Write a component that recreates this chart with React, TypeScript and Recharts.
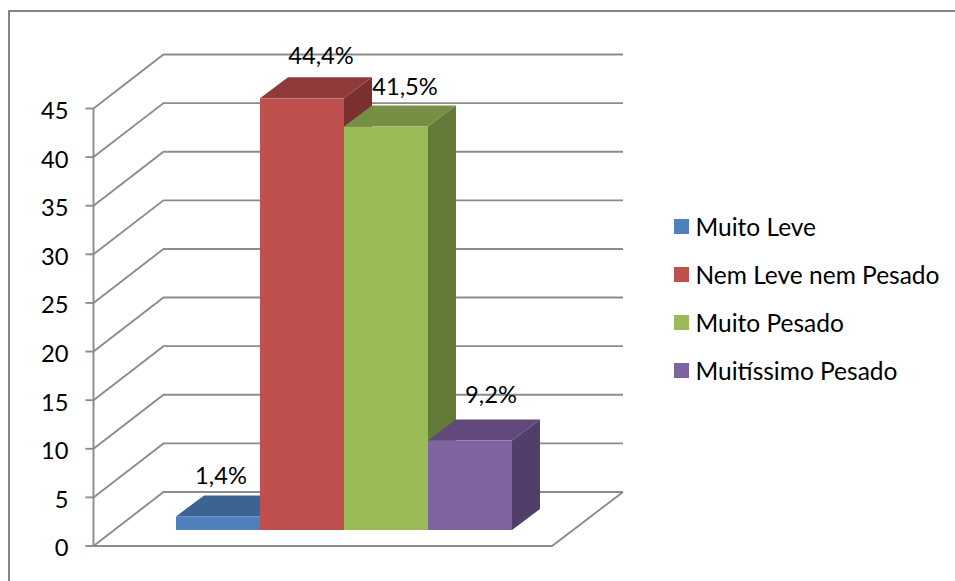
import React from 'react';
import { BarChart, Bar, XAxis, YAxis, CartesianGrid, Legend, LabelList } from 'recharts';

const category = ['Carga'];
const seriesNames = ['Muito Leve', 'Nem Leve nem Pesado', 'Muito Pesado', 'Muitíssimo Pesado'];
const seriesValues = [1.4, 44.4, 41.5, 9.2];
const dataLabels = ['1,4%', '44,4%', '41,5%', '9,2%'];
const yTicks = [0, 5, 10, 15, 20, 25, 30, 35, 40, 45];

const frontColors = ['#4F81BD', '#C0504D', '#9BBB59', '#8064A2'];
const topColors = ['#3C6391', '#8F3B39', '#769043', '#60497B'];
const sideColors = ['#335379', '#7A302E', '#647A38', '#523F69'];

const row: Record<string, string | number> = { name: category[0] };
seriesNames.forEach((n, i) => { row[n] = seriesValues[i]; });
const data = [row];

const FONT = 'Lato, sans-serif';
const GREY = '#8C8C8C';
// perspective of the walls and of the bars
const WALL_DX = 70;
const WALL_DY = 54;
const BAR_DX = 28;
const BAR_DY = 21;
const BAR_SHIFT_X = 20.5;
const BAR_SHIFT_Y = -16;
const LABEL_NUDGE = [[3, -41], [19, -43], [19, -41], [21, -47]];

const wallLine = (props: any) => {
    const { x1, x2, y1 } = props;
    const back = y1 - WALL_DY;
    const isFloor = y1 > 540;
    return (
        <g key={`wall-${y1}`} fill="none" stroke={GREY} strokeWidth={1.9}>
            <path d={`M${x1},${y1}L${x1 + WALL_DX},${back}L${x2 + WALL_DX + 1},${back}`} />
            {isFloor && <path d={`M${x1},${y1}L${x2},${y1}L${x2 + WALL_DX + 1},${back}`} />}
        </g>
    );
};

const box = (i: number) => (props: any) => {
    const x = props.x + BAR_SHIFT_X;
    const y = props.y + BAR_SHIFT_Y;
    const { width, height } = props;
    const right = x + width;
    return (
        <g>
            <polygon points={`${x},${y} ${x + BAR_DX},${y - BAR_DY} ${right + BAR_DX},${y - BAR_DY} ${right},${y}`} fill={topColors[i]} />
            <polygon points={`${right},${y} ${right + BAR_DX},${y - BAR_DY} ${right + BAR_DX},${y + height - BAR_DY} ${right},${y + height}`} fill={sideColors[i]} />
            <rect x={x} y={y} width={width} height={height} fill={frontColors[i]} />
        </g>
    );
};

const barLabel = (i: number) => (props: any) => {
    const cx = props.x + props.width / 2 + BAR_SHIFT_X + LABEL_NUDGE[i][0];
    const cy = props.y + BAR_SHIFT_Y + LABEL_NUDGE[i][1];
    return (
        <text x={cx} y={cy} textAnchor="middle" dominantBaseline="central" fontFamily={FONT} fontSize={23.7} fill="#000">
            {dataLabels[i]}
        </text>
    );
};

const legendContent = (props: any) => (
    <div style={{ fontFamily: FONT, fontSize: 24.5, color: '#000' }}>
        {props.payload.map((entry: any) => (
            <div key={entry.value} style={{ height: 48, display: 'flex', alignItems: 'center', whiteSpace: 'nowrap' }}>
                <span style={{ width: 15, height: 15, background: entry.color, marginRight: 7, flex: 'none' }} />
                {entry.value}
            </div>
        ))}
    </div>
);

export default function App() {
    return (
        <div style={{ position: 'absolute', left: 0, top: 0, width: 955, height: 581, overflow: 'hidden', background: '#fff' }}>
            <div style={{ position: 'absolute', left: 8, top: 10, width: 960, height: 600, borderTop: '2px solid #868686', borderLeft: '2px solid #868686' }} />
            <div style={{ position: 'absolute', left: 0, top: 0 }}>
                <BarChart
                    width={955}
                    height={581}
                    data={data}
                    margin={{ top: 108.5, right: 121.5, bottom: 35, left: 0 }}
                    barCategoryGap={62}
                    barGap={0}
                >
                    <CartesianGrid vertical={false} horizontal={wallLine} />
                    <XAxis dataKey="name" hide />
                    <YAxis
                        type="number"
                        domain={[0, 45]}
                        ticks={yTicks}
                        interval={0}
                        width={93.5}
                        axisLine={{ stroke: GREY, strokeWidth: 1.9 }}
                        tickLine={{ stroke: GREY, strokeWidth: 1.9 }}
                        tickSize={8}
                        tickMargin={17}
                        tick={{ fill: '#000', fontFamily: FONT, fontSize: 23.7, dy: 2 }}
                    />
                    <Legend
                        layout="vertical"
                        align="right"
                        verticalAlign="top"
                        itemSorter={null}
                        content={legendContent}
                        wrapperStyle={{ left: 673.5, top: 202, width: 281.5 }}
                    />
                    {seriesNames.map((name, i) => (
                        <Bar key={name} dataKey={name} fill={frontColors[i]} shape={box(i)} isAnimationActive={false}>
                            <LabelList dataKey={name} content={barLabel(i)} />
                        </Bar>
                    ))}
                </BarChart>
            </div>
        </div>
    );
}
